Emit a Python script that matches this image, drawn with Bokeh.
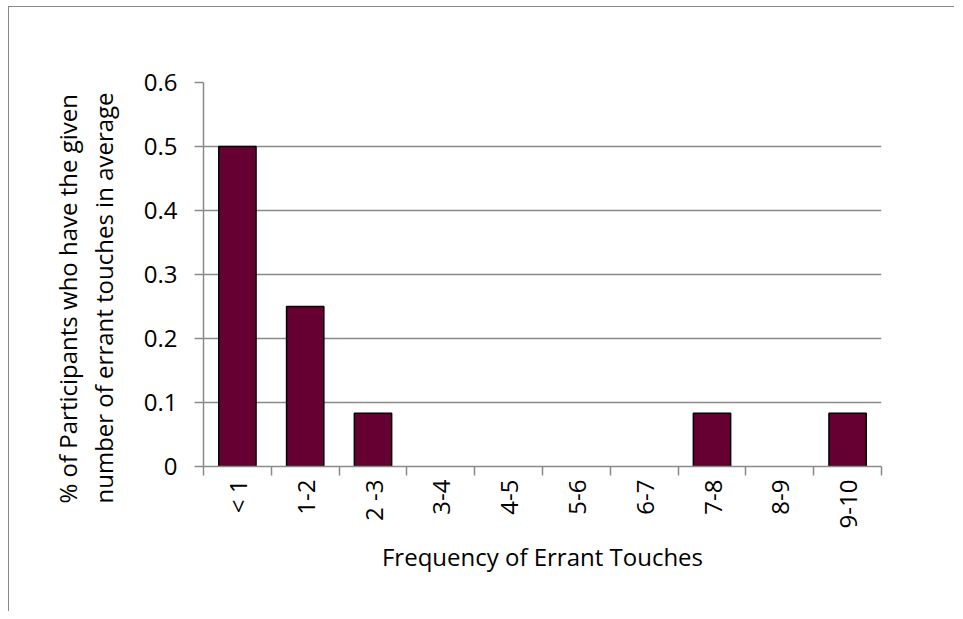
import math
import numpy as np
from bokeh.plotting import figure
from bokeh.models import Range1d, FixedTicker, ColumnDataSource, CustomJSTickFormatter, Title
from bokeh.embed import file_html
from bokeh.resources import INLINE

categories = ["< 1", "1-2", "2 -3", "3-4", "4-5", "5-6", "6-7", "7-8", "8-9", "9-10"]
shares = [0.5, 0.25, 0.0833, 0, 0, 0, 0, 0.0833, 0, 0.0833]
y_ticks = [0, 0.1, 0.2, 0.3, 0.4, 0.5, 0.6]
x_title = "Frequency of Errant Touches"
y_title = "% of Participants who have the given\nnumber of errant touches in average"

FONT = "Open Sans"
FS = "24px"
GRAY = "#8a8a8a"

idx = np.arange(len(categories))
centers = idx + 0.5
boundaries = list(np.arange(len(categories) + 1).astype(float))
vals = np.array(shares)
mask = vals > 0
src = ColumnDataSource(dict(x=centers[mask], top=vals[mask]))

p = figure(width=946, height=605, output_backend="svg", toolbar_location=None,
           x_range=Range1d(0, len(categories)), y_range=Range1d(0, 0.6),
           min_border_left=194, min_border_right=74, min_border_top=75, min_border_bottom=146)
p.styles = {"border-top": "1px solid #8a8a8a", "border-left": "1px solid #8a8a8a",
            "margin-left": "8px", "margin-top": "6px"}
p.outline_line_color = None
p.background_fill_color = "white"
p.border_fill_color = "white"

p.vbar(x="x", top="top", bottom=0, width=0.55, source=src,
       fill_color="#660033", line_color="black", line_width=1.5)

# y axis
p.yaxis.ticker = FixedTicker(ticks=y_ticks)
p.yaxis.formatter = CustomJSTickFormatter(code="return String(Number(tick.toFixed(1)));")
p.yaxis.axis_line_color = GRAY
p.yaxis.axis_line_width = 1.5
p.yaxis.major_tick_line_color = GRAY
p.yaxis.major_tick_line_width = 1.5
p.yaxis.major_tick_out = 9
p.yaxis.major_tick_in = 0
p.yaxis.minor_tick_line_color = None
p.yaxis.major_label_standoff = 17
p.yaxis.major_label_text_font = FONT
p.yaxis.major_label_text_font_size = FS
p.yaxis.major_label_text_color = "black"

ytitle = Title(text=y_title, align="left", offset=-37, standoff=40,
               text_font=FONT, text_font_size=FS, text_font_style="normal",
               text_color="black", text_line_height=1.1)
p.add_layout(ytitle, "left")

# x axis
p.xaxis.ticker = FixedTicker(ticks=list(centers), minor_ticks=boundaries)
p.xaxis.formatter = CustomJSTickFormatter(args=dict(labels=categories),
                                          code="return labels[Math.floor(tick)] || '';")
p.xaxis.axis_line_color = GRAY
p.xaxis.axis_line_width = 1.5
p.xaxis.major_tick_line_color = None
p.xaxis.minor_tick_line_color = GRAY
p.xaxis.minor_tick_line_width = 1.5
p.xaxis.minor_tick_out = 9
p.xaxis.minor_tick_in = 0
p.xaxis.major_tick_out = 9
p.xaxis.major_label_orientation = math.pi / 2
p.xaxis.major_label_standoff = 4
p.xaxis.major_label_text_font = FONT
p.xaxis.major_label_text_font_size = FS
p.xaxis.major_label_text_color = "black"
p.xaxis.axis_label = x_title
p.xaxis.axis_label_text_font = FONT
p.xaxis.axis_label_text_font_size = FS
p.xaxis.axis_label_text_font_style = "normal"
p.xaxis.axis_label_text_color = "black"
p.xaxis.axis_label_standoff = 9

p.xgrid.grid_line_color = None
p.ygrid.ticker = FixedTicker(ticks=y_ticks)
p.ygrid.grid_line_color = GRAY
p.ygrid.grid_line_width = 1.5

open("out.html", "w").write(file_html(p, INLINE))
